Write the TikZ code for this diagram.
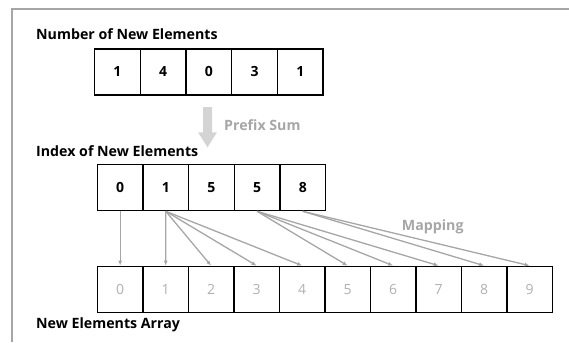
\documentclass[tikz,border=0pt]{standalone}
\usepackage{fontspec}
\setmainfont{Open Sans}
\usetikzlibrary{arrows.meta}
\definecolor{frame}{HTML}{A6A6A6}
\definecolor{lgrey}{HTML}{A6A6A6}
\definecolor{ngrey}{HTML}{B0B0B0}
\definecolor{agrey}{HTML}{D4D4D4}
\tikzset{
  cell/.style={draw=black, line width=1.3pt, minimum width=45.6pt, minimum height=46pt, inner sep=0pt, anchor=north west, font=\fontsize{14}{16}\selectfont\bfseries},
  ocell/.style={cell, font=\fontsize{14}{16}\selectfont, text=ngrey},
  lbl/.style={anchor=base west, inner sep=0pt, font=\fontsize{14.2}{16}\selectfont\bfseries},
  glbl/.style={lbl, text=lgrey},
  map/.style={draw=lgrey, line width=1.3pt, -{Latex[length=5pt,width=4pt]}}
}
\begin{document}
\begin{tikzpicture}[x=1pt,y=-1pt]
\useasboundingbox (0,0) rectangle (569,342);
\draw[frame, line width=2pt] (569,9) -- (12,9) -- (12,342);
% labels
\node[lbl] (l1) at (36,40) {Number of New Elements};
\node[lbl] (l2) at (36,156.7) {Index of New Elements};
\node[lbl] (l3) at (36,328) {New Elements Array};
\node[glbl] (l4) at (224,130.7) {Prefix Sum};
\node[glbl] (l5) at (401.7,230) {Mapping};
% top array
\foreach \v [count=\i from 0] in {1,4,0,3,1}
  \node[cell] (n\i) at (94+45.7*\i,48.3) {\v};
% index array
\foreach \v [count=\i from 0] in {0,1,5,5,8}
  \node[cell] (x\i) at (96.7+45.65*\i,164) {\v};
% output array
\foreach \i in {0,...,9}
  \node[ocell] (o\i) at (96.7+45.5*\i,265.7) {\i};
% prefix sum block arrow
\fill[agrey] (203,107) -- (212,107) -- (212,132.3) -- (217,132.3) -- (207.5,147.3) -- (198,132.3) -- (203,132.3) -- cycle;
% mappings
\draw[map] (x0.south) -- (o0.north);
\foreach \j in {1,2,3,4} \draw[map] (x1.south) -- (o\j.north);
\foreach \j in {5,6,7} \draw[map] (x3.south) -- (o\j.north);
\foreach \j in {8,9} \draw[map] (x4.south) -- (o\j.north);
\end{tikzpicture}
\end{document}
